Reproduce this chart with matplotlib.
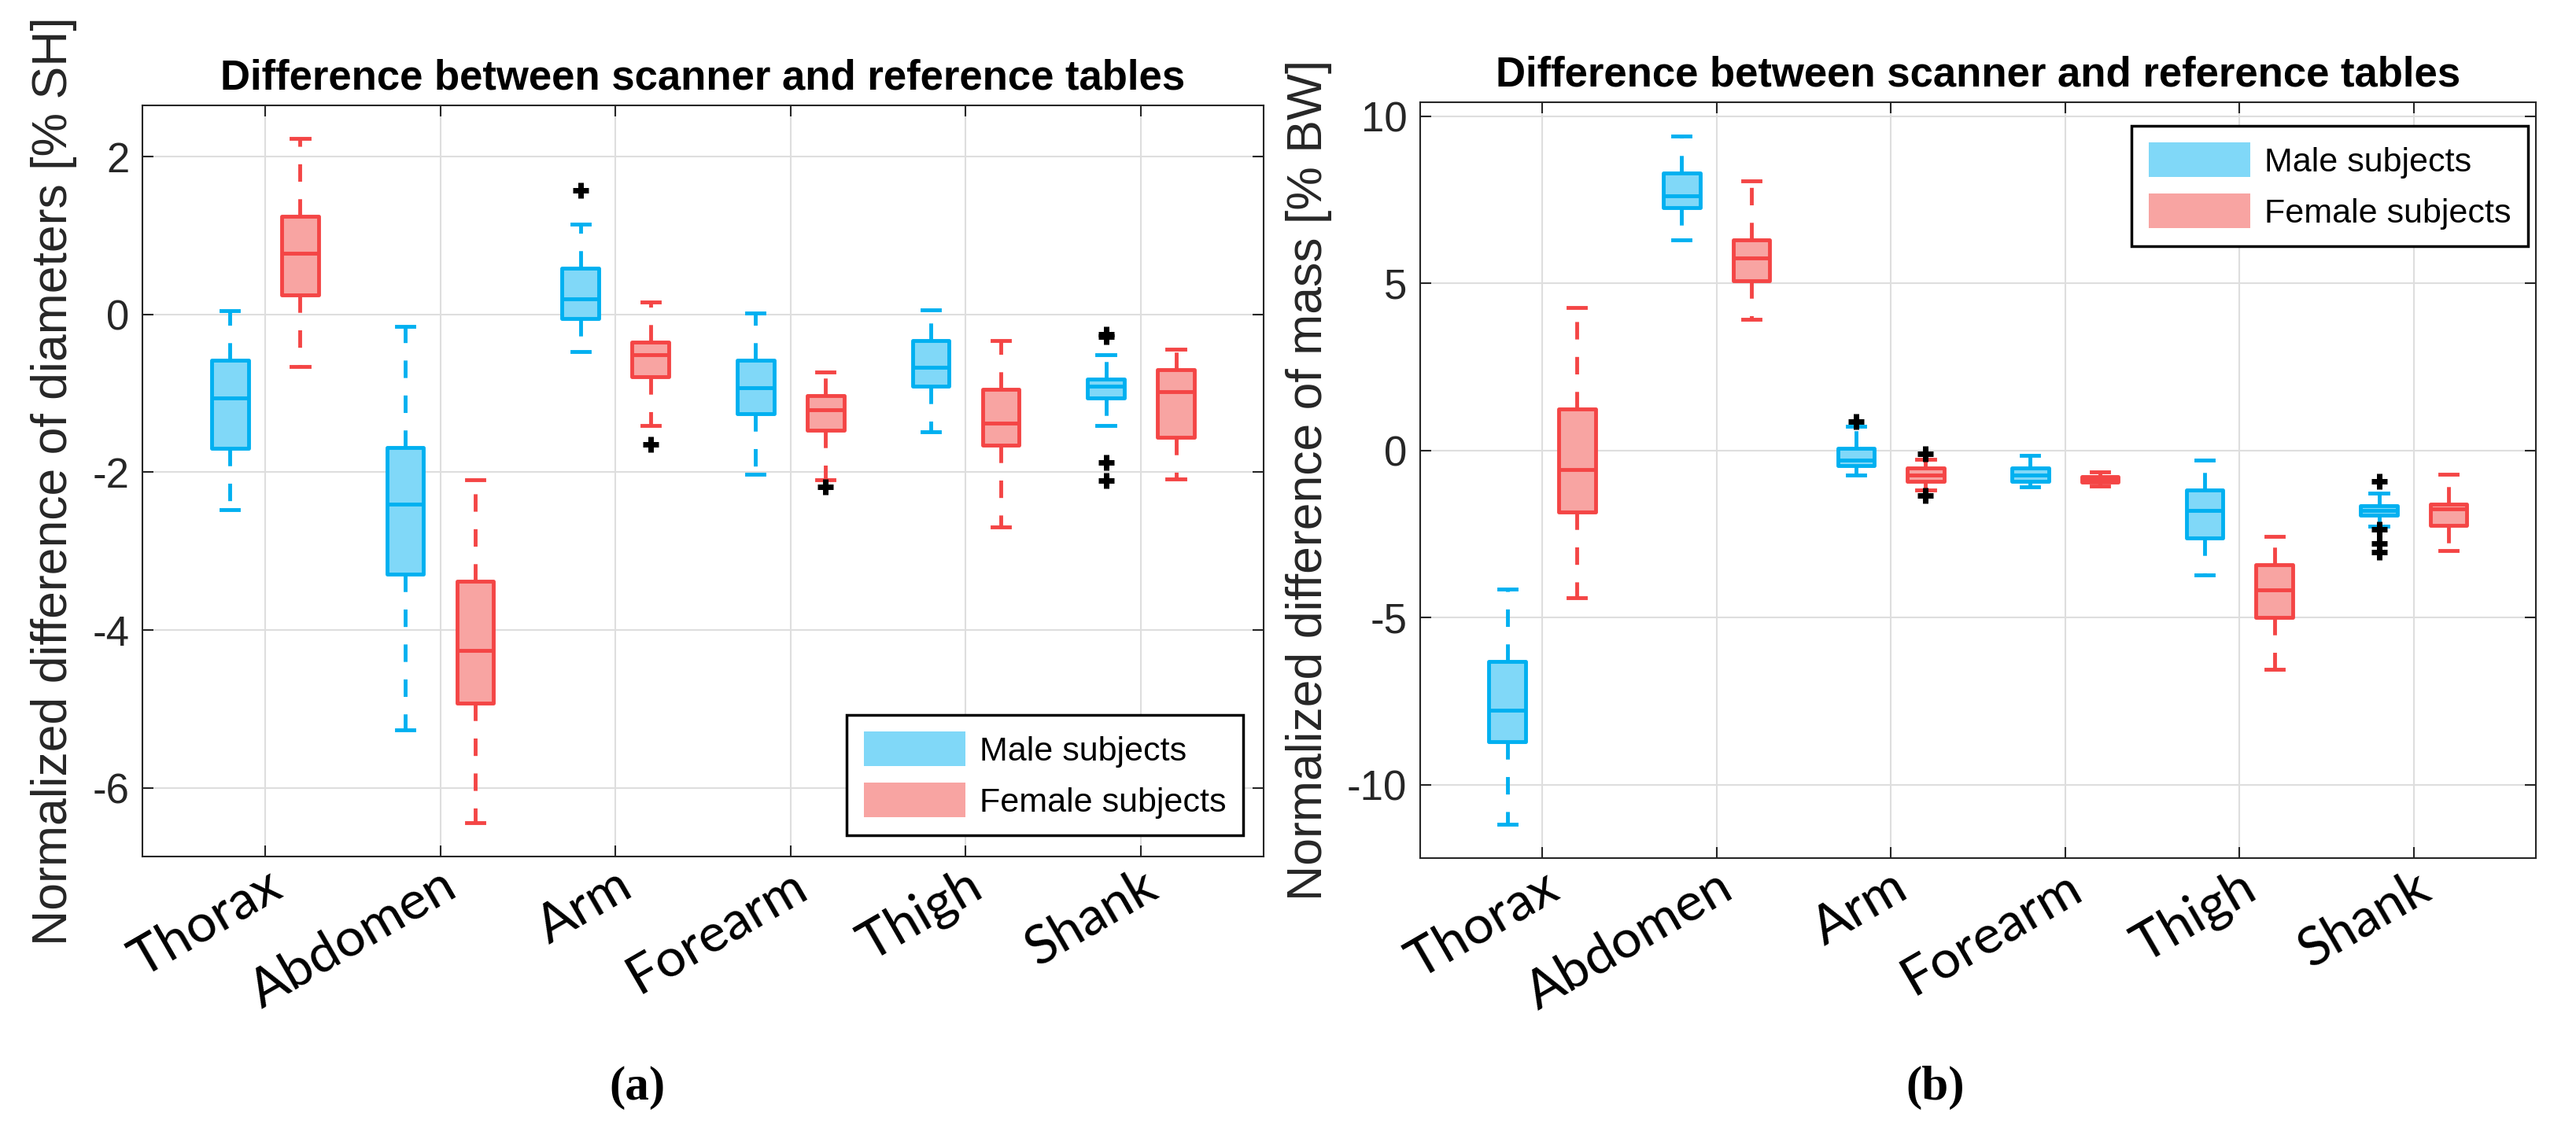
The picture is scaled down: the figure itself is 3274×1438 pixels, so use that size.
import matplotlib
matplotlib.use("Agg")
import matplotlib.pyplot as plt
from matplotlib.patches import Patch

plt.rcParams["font.family"] = ["Liberation Sans", "DejaVu Sans"]
plt.rcParams["lines.scale_dashes"] = False

CATEGORIES = ["Thorax", "Abdomen", "Arm", "Forearm", "Thigh", "Shank"]

# (a) diameters [% SH]: whisker low, q1, median, q3, whisker high
DIAM_MALE_LOW = [-2.47, -5.27, -0.47, -2.03, -1.49, -1.41]
DIAM_MALE_Q1 = [-1.70, -3.29, -0.05, -1.26, -0.91, -1.06]
DIAM_MALE_MED = [-1.06, -2.40, 0.20, -0.93, -0.67, -0.91]
DIAM_MALE_Q3 = [-0.58, -1.69, 0.59, -0.58, -0.33, -0.82]
DIAM_MALE_HIGH = [0.05, -0.15, 1.14, 0.02, 0.06, -0.51]
DIAM_MALE_OUT = [[], [], [1.57], [], [], [-0.25, -0.28, -1.88, -2.10]]

DIAM_FEMALE_LOW = [-0.66, -6.44, -1.41, -2.09, -2.69, -2.08]
DIAM_FEMALE_Q1 = [0.25, -4.93, -0.79, -1.47, -1.66, -1.56]
DIAM_FEMALE_MED = [0.78, -4.26, -0.51, -1.21, -1.38, -0.98]
DIAM_FEMALE_Q3 = [1.24, -3.38, -0.35, -1.03, -0.95, -0.70]
DIAM_FEMALE_HIGH = [2.23, -2.09, 0.16, -0.73, -0.33, -0.44]
DIAM_FEMALE_OUT = [[], [], [-1.65], [-2.18], [], []]

# (b) mass [% BW]
MASS_MALE_LOW = [-11.18, 6.30, -0.74, -1.08, -3.73, -2.27]
MASS_MALE_Q1 = [-8.72, 7.27, -0.45, -0.93, -2.61, -1.94]
MASS_MALE_MED = [-7.77, 7.62, -0.30, -0.73, -1.79, -1.79]
MASS_MALE_Q3 = [-6.32, 8.31, 0.06, -0.52, -1.19, -1.66]
MASS_MALE_HIGH = [-4.14, 9.41, 0.73, -0.15, -0.28, -1.29]
MASS_MALE_OUT = [[], [], [0.86], [], [], [-0.93, -2.37, -2.78, -3.04]]

MASS_FEMALE_LOW = [-4.42, 3.93, -1.19, -1.06, -6.54, -3.00]
MASS_FEMALE_Q1 = [-1.84, 5.07, -0.92, -0.95, -4.99, -2.25]
MASS_FEMALE_MED = [-0.57, 5.76, -0.73, -0.86, -4.18, -1.75]
MASS_FEMALE_Q3 = [1.25, 6.30, -0.53, -0.78, -3.43, -1.60]
MASS_FEMALE_HIGH = [4.27, 8.07, -0.26, -0.65, -2.57, -0.71]
MASS_FEMALE_OUT = [[], [], [-0.10, -1.35], [], [], []]

BLUE_EDGE = "#00b0f0"
BLUE_FILL = "#80d8f8"
RED_EDGE = "#f44545"
RED_FILL = "#f8a4a2"
TEXT_GRAY = "#262626"


def make_stats(low, q1, med, q3, high, out):
    return [
        dict(whislo=a, q1=b, med=c, q3=d, whishi=e, fliers=f)
        for a, b, c, d, e, f in zip(low, q1, med, q3, high, out)
    ]


def draw_group(ax, stats, offset, edge, fill):
    lw = 3.5
    pos = [i + 1 + offset for i in range(len(stats))]
    parts = ax.bxp(
        stats,
        positions=pos,
        widths=0.21,
        capwidths=0.1,
        patch_artist=True,
        manage_ticks=False,
        boxprops=dict(facecolor=fill, edgecolor=edge, linewidth=lw, joinstyle="round"),
        whiskerprops=dict(color=edge, linewidth=lw, linestyle=(0, (16, 16))),
        capprops=dict(color=edge, linewidth=lw),
        medianprops=dict(color=edge, linewidth=lw),
        flierprops=dict(marker="+", markersize=15, markeredgewidth=5,
                        markeredgecolor="black", linestyle="none"),
    )
    for box in parts["boxes"]:
        box.set_zorder(3)
    for line in parts["medians"]:
        line.set_zorder(4)
    return parts


def style_axes(ax, ylim, yticks, ylabel):
    ax.set_xlim(0.3, 6.7)
    ax.set_ylim(*ylim)
    ax.set_yticks(yticks)
    ax.set_yticklabels([str(t) for t in yticks])
    ax.set_xticks(range(1, 7))
    ax.set_xticklabels(CATEGORIES, rotation=30, ha="right", va="top",
                       rotation_mode="anchor", family="Lato", fontsize=49,
                       color="black")
    ax.tick_params(axis="x", pad=4)
    ax.tick_params(axis="y", labelsize=38, labelcolor=TEXT_GRAY, pad=12)
    ax.tick_params(direction="in", top=True, right=True, length=10,
                   width=1.5, color=TEXT_GRAY)
    ax.grid(True, color="#dedede", linewidth=1.5)
    ax.set_axisbelow(True)
    for spine in ax.spines.values():
        spine.set_color(TEXT_GRAY)
        spine.set_linewidth(1.5)
    ax.set_title("Difference between scanner and reference tables",
                 fontsize=38, fontweight="bold", pad=15)
    ax.set_ylabel(ylabel, fontsize=45, color=TEXT_GRAY, labelpad=14)


def add_legend(ax, loc, anchor):
    handles = [Patch(facecolor=BLUE_FILL, edgecolor="none", label="Male subjects"),
               Patch(facecolor=RED_FILL, edgecolor="none", label="Female subjects")]
    leg = ax.legend(handles=handles, loc=loc, bbox_to_anchor=anchor,
                    fontsize=31, fancybox=False, framealpha=1,
                    edgecolor="black", handlelength=3.0, handleheight=1.2,
                    handletextpad=0.42, labelspacing=0.45, borderpad=0.5,
                    borderaxespad=0)
    leg.get_frame().set_linewidth(2.5)
    leg.set_zorder(10)


fig = plt.figure(figsize=(32.74, 14.38), dpi=100)
ax_a = fig.add_axes([0.0553, 0.2427, 0.4352, 0.6641])
ax_b = fig.add_axes([0.5513, 0.2413, 0.4331, 0.6683])

draw_group(ax_a, make_stats(DIAM_MALE_LOW, DIAM_MALE_Q1, DIAM_MALE_MED,
                            DIAM_MALE_Q3, DIAM_MALE_HIGH, DIAM_MALE_OUT),
           -0.2, BLUE_EDGE, BLUE_FILL)
draw_group(ax_a, make_stats(DIAM_FEMALE_LOW, DIAM_FEMALE_Q1, DIAM_FEMALE_MED,
                            DIAM_FEMALE_Q3, DIAM_FEMALE_HIGH, DIAM_FEMALE_OUT),
           0.2, RED_EDGE, RED_FILL)
style_axes(ax_a, (-6.87, 2.65), [-6, -4, -2, 0, 2],
           "Normalized difference of diameters [% SH]")
add_legend(ax_a, "lower right", (0.982, 0.028))

draw_group(ax_b, make_stats(MASS_MALE_LOW, MASS_MALE_Q1, MASS_MALE_MED,
                            MASS_MALE_Q3, MASS_MALE_HIGH, MASS_MALE_OUT),
           -0.2, BLUE_EDGE, BLUE_FILL)
draw_group(ax_b, make_stats(MASS_FEMALE_LOW, MASS_FEMALE_Q1, MASS_FEMALE_MED,
                            MASS_FEMALE_Q3, MASS_FEMALE_HIGH, MASS_FEMALE_OUT),
           0.2, RED_EDGE, RED_FILL)
style_axes(ax_b, (-12.2, 10.42), [-10, -5, 0, 5, 10],
           "Normalized difference of mass [% BW]")
add_legend(ax_b, "upper right", (0.993, 0.969))

fig.text(810 / 3274, 1 - 1383 / 1438, "(a)", ha="center", va="center",
         fontsize=44, fontweight="bold", family="Liberation Serif")
fig.text(2460 / 3274, 1 - 1383 / 1438, "(b)", ha="center", va="center",
         fontsize=44, fontweight="bold", family="Liberation Serif")

fig.savefig("out.png", dpi=100, facecolor="white")
